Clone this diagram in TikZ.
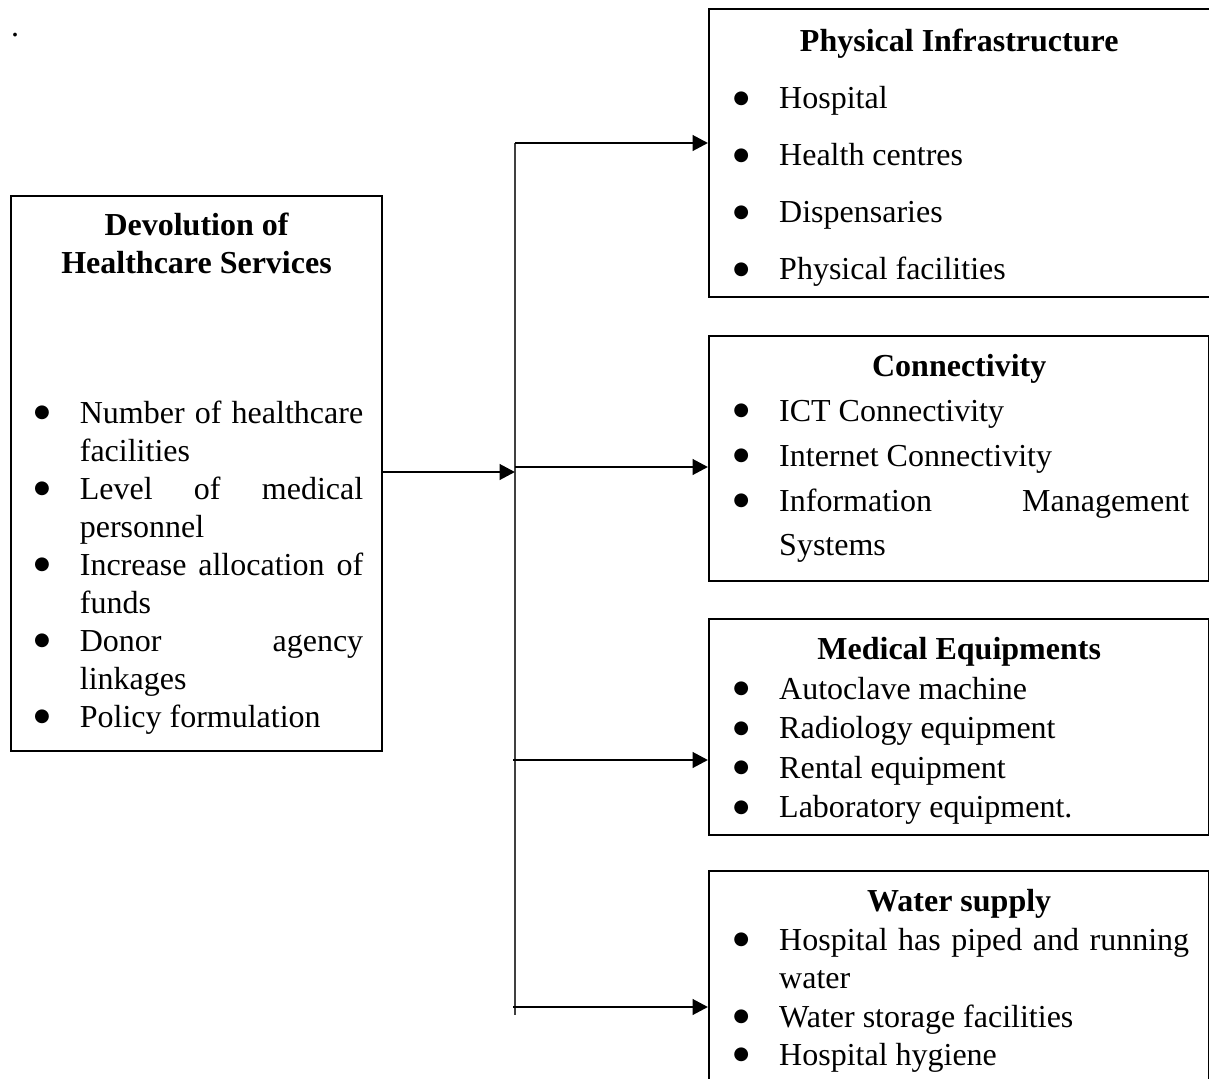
\documentclass[tikz,border=0pt]{standalone}
\usepackage{fontspec}
\setmainfont{Liberation Serif}
\newfontfamily\dotfont{DejaVu Sans}
\usetikzlibrary{
    arrows.meta,
    positioning
}
\hyphenpenalty=10000
\exhyphenpenalty=10000

\newcommand{\bigbullet}{\raisebox{2.1pt}{\dotfont\fontsize{6.8}{6.8}\selectfont ●}}
\newcommand{\bitem}[1]{\par\hangindent=18.75pt\hangafter=1\noindent
    \makebox[18.75pt][l]{\hspace{1.6pt}\bigbullet}#1}
\newcommand{\boxtitle}[2][0pt]{\noindent\rule{0pt}{#1}\makebox[172.5pt]{\bfseries #2}}

\begin{document}
\begin{tikzpicture}[
    x=0.375pt, y=-0.375pt,
    box/.style={
        draw,
        line width=0.9pt,
        anchor=north west,
        inner xsep=7.5pt,
        inner ysep=2pt,
        text width=172.5pt,
        align=justify
    },
    arrow/.style={-{Triangle[length=5.8pt,width=5.8pt]},line width=1.1pt},
    spine/.style={line width=0.6pt,draw=black!75}
]
\clip (0,0) rectangle (1209,1078);

\node[font=\fontsize{12}{14}\selectfont, inner sep=0pt] (dot) at (15,35) {.};

% left box
\node[box, text width=125pt, inner xsep=7pt, minimum height=208.1pt,
      font=\fontsize{12}{14.25}\selectfont] (dev) at (10,195)
{{\centering\bfseries Devolution of\\ Healthcare Services\par}
 \vspace{42pt}
 \bitem{Number of healthcare\linebreak facilities}
 \bitem{Level of medical\linebreak personnel}
 \bitem{Increase allocation of\linebreak funds}
 \bitem{Donor agency\linebreak linkages}
 \bitem{Policy formulation}\par};

% right boxes
\node[box, text width=180pt, minimum height=108pt,
      font=\fontsize{12}{21.4}\selectfont] (phys) at (708,8)
{\boxtitle[12pt]{Physical Infrastructure}
 \bitem{Hospital}
 \bitem{Health centres}
 \bitem{Dispensaries}
 \bitem{Physical facilities}\par};

\node[box, minimum height=91.9pt,
      font=\fontsize{12}{16.8}\selectfont] (conn) at (708,335)
{\boxtitle{Connectivity}
 \bitem{ICT Connectivity}
 \bitem{Internet Connectivity}
 \bitem{Information Management\linebreak Systems}\par};

\node[box, minimum height=81pt,
      font=\fontsize{12}{14.8}\selectfont] (equip) at (708,618)
{\boxtitle[11.3pt]{Medical Equipments}
 \bitem{Autoclave machine}
 \bitem{Radiology equipment}
 \bitem{Rental equipment}
 \bitem{Laboratory equipment.}\par};

\node[box, minimum height=80.25pt,
      font=\fontsize{12}{14.4}\selectfont] (water) at (708,870)
{\boxtitle[10.5pt]{Water supply}
 \bitem{Hospital has piped and running\linebreak water}
 \bitem{Water storage facilities}
 \bitem{Hospital hygiene}\par};

% connectors
\coordinate (top) at (515,143);
\coordinate (bot) at (515,1015);
\coordinate (join) at (515,472);
\coordinate (br2) at (515,467);
\coordinate (br3) at (513,760);
\coordinate (br4) at (513,1007);

\draw[spine] (top) -- (bot);
\draw[arrow] (dev.east |- join) -- (join);
\draw[arrow] (top) -- (top -| phys.west);
\draw[arrow] (br2) -- (br2 -| conn.west);
\draw[arrow] (br3) -- (br3 -| equip.west);
\draw[arrow] (br4) -- (br4 -| water.west);

\end{tikzpicture}
\end{document}
